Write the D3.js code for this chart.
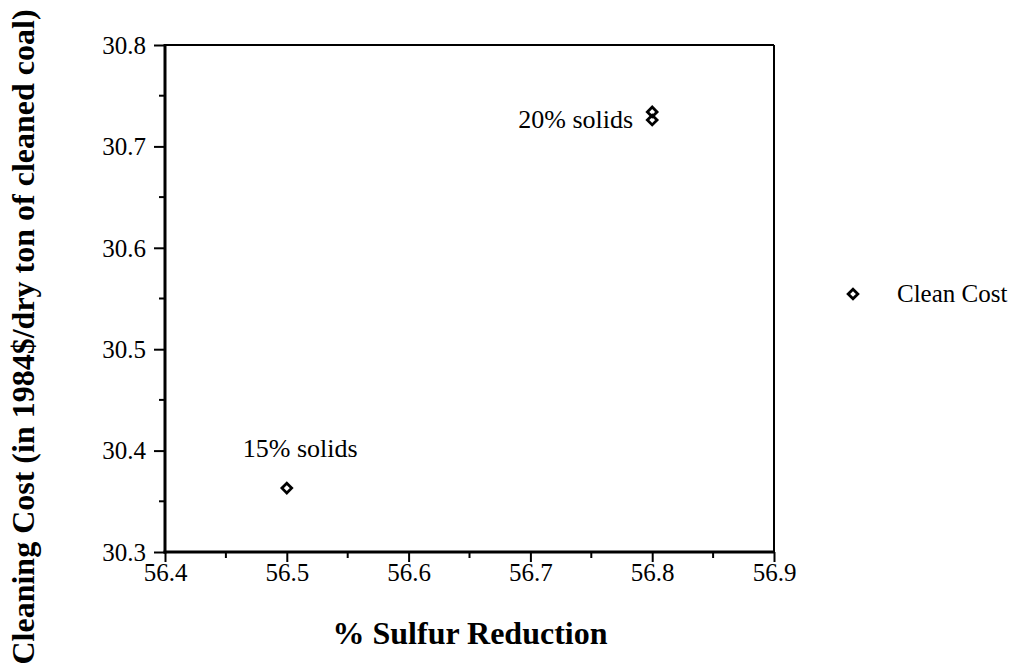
<!DOCTYPE html>
<html>
<head>
<meta charset="utf-8">
<script src="https://cdn.jsdelivr.net/npm/d3@7"></script>
<style>
  html, body { margin: 0; padding: 0; background: #fff; }
  svg { display: block; }
</style>
</head>
<body>
<svg id="chart" width="1019" height="664"></svg>
<script>
// ---- Data ----
const sulfurReduction = [56.5, 56.8, 56.8];
const cleanCost = [30.363, 30.726, 30.734];
const pointLabels = [
  { text: "15% solids", x: 56.5, y: 30.363 },
  { text: "20% solids", x: 56.8, y: 30.73 }
];
const xTicks = [56.4, 56.5, 56.6, 56.7, 56.8, 56.9];
const yTicks = [30.3, 30.4, 30.5, 30.6, 30.7, 30.8];
const seriesName = "Clean Cost";
const xTitle = "% Sulfur Reduction";
const yTitle = "Cleaning Cost (in 1984$/dry ton of cleaned coal)";

(function () {
// ---- Layout ----
const svg = d3.select("#chart");
const pLeft = 165, pRight = 774, pTop = 45, pBottom = 552;
const serif = "'Liberation Serif', 'Times New Roman', serif";

const x = d3.scaleLinear().domain([56.4, 56.9]).range([pLeft, pRight]);
const y = d3.scaleLinear().domain([30.3, 30.8]).range([pBottom, pTop]);

// Frame (top/right thinner)
svg.append("line").attr("x1", pLeft).attr("x2", pRight).attr("y1", pTop).attr("y2", pTop)
  .attr("stroke", "#000").attr("stroke-width", 2);
svg.append("line").attr("x1", pRight).attr("x2", pRight).attr("y1", pTop).attr("y2", pBottom)
  .attr("stroke", "#000").attr("stroke-width", 2);

// Minor ticks
const xMinor = d3.range(0, 5).map(i => 56.45 + i * 0.1);
const yMinor = d3.range(0, 5).map(i => 30.35 + i * 0.1);

const xAxis = d3.axisBottom(x).tickValues(xTicks).tickFormat(d3.format(".1f")).tickSize(10).tickSizeOuter(0);
const yAxis = d3.axisLeft(y).tickValues(yTicks).tickFormat(d3.format(".1f")).tickSize(11).tickSizeOuter(0);

const gx = svg.append("g").attr("transform", `translate(0,${pBottom})`).call(xAxis)
  .attr("font-family", serif).attr("font-size", 25);
const gy = svg.append("g").attr("transform", `translate(${pLeft},0)`).call(yAxis)
  .attr("font-family", serif).attr("font-size", 25);

gx.selectAll(".domain").attr("stroke-width", 3).attr("d", `M${pLeft - 1.5},0H${pRight + 1}`);
gy.selectAll(".domain").attr("stroke-width", 3).attr("d", `M0,${pBottom + 1.5}V${pTop - 1}`);
gx.selectAll(".tick line").attr("stroke-width", 2);
gy.selectAll(".tick line").attr("stroke-width", 2);
gx.selectAll(".tick text").attr("fill", "#000").attr("dy", "0.95em").attr("y", 5);
gy.selectAll(".tick text").attr("fill", "#000").attr("x", -19).attr("dy", "0.33em");

gx.selectAll(".minor").data(xMinor).enter().append("line")
  .attr("x1", d => x(d)).attr("x2", d => x(d)).attr("y1", 0).attr("y2", 6)
  .attr("stroke", "#000").attr("stroke-width", 2);
gy.selectAll(".minor").data(yMinor).enter().append("line")
  .attr("y1", d => y(d)).attr("y2", d => y(d)).attr("x1", 0).attr("x2", -6)
  .attr("stroke", "#000").attr("stroke-width", 2);

// Diamonds
const diamond = d3.symbol().type(d3.symbolDiamond2).size(60);
svg.selectAll(".pt").data(d3.range(sulfurReduction.length)).enter().append("path")
  .attr("d", diamond)
  .attr("transform", i => `translate(${x(sulfurReduction[i])},${y(cleanCost[i])})`)
  .attr("fill", "none").attr("stroke", "#000").attr("stroke-width", 2.8);

// Point labels
svg.append("text").attr("x", x(pointLabels[0].x) - 44).attr("y", y(pointLabels[0].y) - 31)
  .attr("font-family", serif).attr("font-size", 26).attr("fill", "#000").text(pointLabels[0].text);
svg.append("text").attr("x", x(pointLabels[1].x) - 19).attr("y", y(pointLabels[1].y) + 12)
  .attr("text-anchor", "end")
  .attr("font-family", serif).attr("font-size", 26).attr("fill", "#000").text(pointLabels[1].text);

// Legend
svg.append("path").attr("d", diamond).attr("transform", "translate(853,294)")
  .attr("fill", "none").attr("stroke", "#000").attr("stroke-width", 2.8);
svg.append("text").attr("x", 897).attr("y", 302)
  .attr("font-family", serif).attr("font-size", 25).attr("fill", "#000").text(seriesName);

// Axis titles
svg.append("text").attr("x", 470).attr("y", 644)
  .attr("text-anchor", "middle").attr("font-family", serif).attr("font-weight", "bold")
  .attr("font-size", 32).attr("fill", "#000").text(xTitle);
svg.append("text").attr("transform", "translate(34,337) rotate(-90)")
  .attr("text-anchor", "middle").attr("font-family", serif).attr("font-weight", "bold")
  .attr("font-size", 32).attr("fill", "#000").text(yTitle);
})();
</script>
</body>
</html>
